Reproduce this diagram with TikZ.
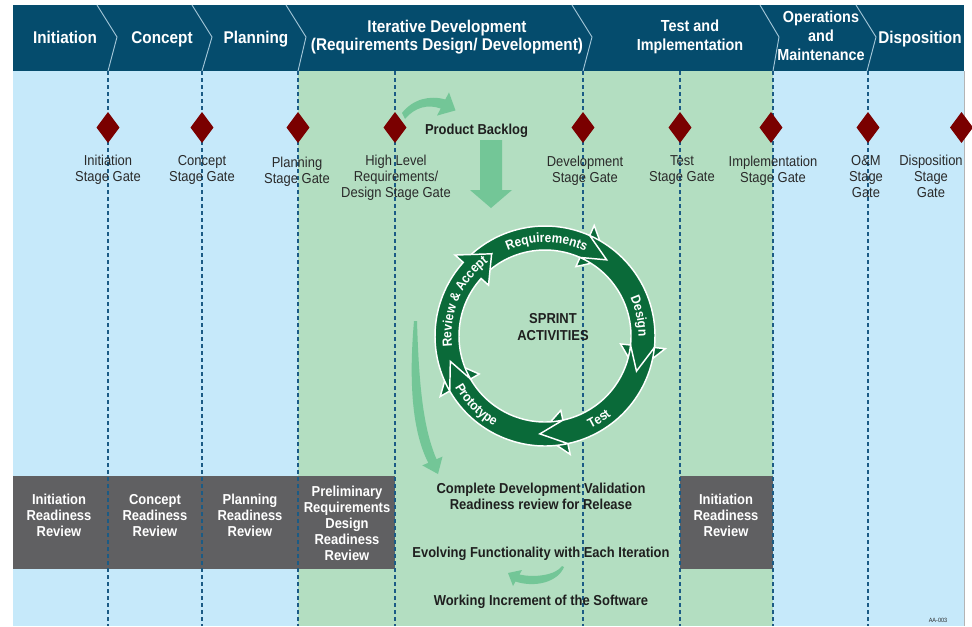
\documentclass[tikz,border=0pt]{standalone}
\usepackage{fontspec}
\setmainfont{Liberation Sans}[FakeStretch=0.9]
\usetikzlibrary{shapes.geometric,decorations.text}
\definecolor{bannerblue}{HTML}{054C6D}
\definecolor{sepline}{HTML}{A3C6D8}
\definecolor{paleblue}{HTML}{C6E9FA}
\definecolor{palegreen}{HTML}{B3DEC1}
\definecolor{dashblue}{HTML}{1B5B85}
\definecolor{gatered}{HTML}{7A0000}
\definecolor{boxgray}{HTML}{606062}
\definecolor{ringgreen}{HTML}{0A6A39}
\definecolor{flowgreen}{HTML}{73C697}
\definecolor{labelgray}{HTML}{2A2A2A}
\definecolor{framegray}{HTML}{B4B4B4}
\newcommand\ringfont{\bfseries\fontsize{10pt}{12pt}\selectfont}
\begin{document}
\begin{tikzpicture}[x=0.75pt,y=-0.75pt,
  phase/.style={anchor=north,inner sep=0pt,align=center,text=white,font=\bfseries\fontsize{12.75pt}{13.5pt}\selectfont},
  phasesmall/.style={phase,font=\bfseries\fontsize{12pt}{14.25pt}\selectfont},
  gatemark/.style={diamond,fill=gatered,draw=none,inner sep=0pt,minimum width=17.4pt,minimum height=23.4pt},
  gatelabel/.style={anchor=north,inner sep=0pt,align=center,text=labelgray,font=\fontsize{10.8pt}{12pt}\selectfont},
  reviewtext/.style={anchor=north,inner sep=0pt,align=center,text=white,font=\bfseries\fontsize{10.8pt}{12pt}\selectfont},
  darktext/.style={anchor=north,inner sep=0pt,align=center,text=black!88,font=\bfseries\fontsize{10.8pt}{12pt}\selectfont},
  stageline/.style={draw=dashblue,line width=0.8pt,dash pattern=on 3pt off 2.25pt},
  chevronsep/.style={draw=sepline,line width=0.7pt},
  ringarrow/.style={fill=ringgreen,draw=white,line width=1.1pt,line join=miter},
  flowarrow/.style={fill=flowgreen,draw=none},
  ringlabel/.style={decorate,decoration={text along path,text align=center,text color=white}},
]
\useasboundingbox (0,0) rectangle (972,626);
% banner and body
\fill[bannerblue] (13,5) rectangle (964,71);
\fill[paleblue] (13,71) rectangle (298,626);
\fill[palegreen] (298,71) rectangle (773,626);
\fill[paleblue] (773,71) rectangle (964,626);
\draw[framegray,line width=0.75pt] (964.4,71) -- (964.4,626);
\foreach \a/\b/\c in {97/117/108, 192/212/202, 286/306/298, 572/592/583, 760/779/773, 856/876/867}
  \draw[chevronsep] (\a,5) -- (\b,37) -- (\c,71);
% phase titles
\node[phase] (ph1) at (65,31) {Initiation};
\node[phase] (ph2) at (162,31) {Concept};
\node[phase] (ph3) at (256,31) {Planning};
\node[phase] (ph4) at (447,19.5) {Iterative Development\\(Requirements Design/ Development)};
\node[phasesmall] (ph5) at (690,20) {Test and\\Implementation};
\node[phasesmall] (ph6) at (821,10.5) {Operations\\and\\Maintenance};
\node[phase] (ph7) at (920,31) {Disposition};
% review boxes
\fill[boxgray] (13,476) rectangle (395,569);
\fill[boxgray] (680,476) rectangle (773,569);
% stage lines
\foreach \x in {108,202,298,395,583,680,773,868}
  \draw[stageline] (\x,71) -- (\x,626);
% gates
\foreach \x [count=\i] in {108,202,298,395,583,680,771,868,961.5}
  \node[gatemark] (gate\i) at (\x,127.5) {};
\node[gatelabel] (gl1) at (108,155) {Initiation\\Stage Gate};
\node[gatelabel] (gl2) at (202,155.5) {Concept\\Stage Gate};
\node[gatelabel] (gl3) at (297,156.5) {Planning\\Stage Gate};
\node[gatelabel] (gl4) at (396,154.5) {High Level\\Requirements/\\Design Stage Gate};
\node[gatelabel] (gl5) at (585,155.5) {Development\\Stage Gate};
\node[gatelabel] (gl6) at (682,155.5) {Test\\Stage Gate};
\node[gatelabel] (gl7) at (773,155.5) {Implementation\\Stage Gate};
\node[gatelabel] (gl8) at (866,155.5) {O\&M\\Stage\\Gate};
\node[gatelabel] (gl9) at (931,155) {Disposition\\Stage\\Gate};
% review texts
\node[reviewtext] (rv1) at (59,494) {Initiation\\Readiness\\Review};
\node[reviewtext] (rv2) at (155,494) {Concept\\Readiness\\Review};
\node[reviewtext] (rv3) at (250,494) {Planning\\Readiness\\Review};
\node[reviewtext] (rv4) at (347,486) {Preliminary\\Requirements\\Design\\Readiness\\Review};
\node[reviewtext] (rv5) at (726,494) {Initiation\\Readiness\\Review};
% sprint ring
\begin{scope}[shift={(545,336)},x=0.75pt,y=0.75pt]
  \foreach \tp/\bp/\b/\t in {123/138/66/51, 51/66/-6/-21, -21/-6/-78/-93, -93/-78/-150/-165, 195/210/138/123}
    \filldraw[ringarrow] (\bp:110) arc[start angle=\bp, end angle=\b, radius=110]
      -- (\b:121) -- (\t:98) -- (\b:76) -- (\b:86)
      arc[start angle=\b, end angle=\bp, radius=86] -- (\tp:98) -- cycle;
  \path[ringlabel,decoration={text={|\ringfont|Requirements}}] (134:93.5) arc[start angle=134, end angle=44, radius=93.5];
  \path[ringlabel,decoration={text={|\ringfont|Design}}] (47:93.5) arc[start angle=47, end angle=-23, radius=93.5];
  \path[ringlabel,decoration={text={|\ringfont|Test}}] (-88:103.5) arc[start angle=-88, end angle=-26, radius=103.5];
  \path[ringlabel,decoration={text={|\ringfont|Prototype}}] (-181:103.5) arc[start angle=-181, end angle=-89, radius=103.5];
  \path[ringlabel,decoration={text={|\ringfont|Review {\&} Accept}}] (210:93.5) arc[start angle=210, end angle=104, radius=93.5];
\end{scope}
% flow arrows
\fill[flowarrow] (402,113) .. controls (413,99) and (430,95) .. (445.3,99.5) -- (449,92.4) -- (455.5,110.4) -- (437,115.6) -- (440.7,108.5) .. controls (428,104) and (415,107) .. (405,119) -- cycle;
\fill[flowarrow] (480,140) -- (502,140) -- (502,190) -- (512,190) -- (491,208) -- (470,190) -- (480,190) -- cycle;
\fill[flowarrow] (414,321) .. controls (408,390) and (414,435) .. (428.3,462.8) -- (422.3,465.4) -- (438,474) -- (442.5,456.6) -- (436.5,459.2) .. controls (424,430) and (419,390) .. (417,321) -- cycle;
\fill[flowarrow] (562,566) .. controls (556,575) and (535,578) .. (519.5,574.5) -- (522,570) -- (508,573) -- (513,586) -- (515.5,581.5) .. controls (535,588) and (558,582) .. (564,567) -- cycle;
% texts
\node[darktext] (pb) at (476.5,124) {Product Backlog};
\node[darktext,font=\bfseries\fontsize{10.8pt}{12.75pt}\selectfont] (spr) at (553,313) {SPRINT\\ACTIVITIES};
\node[darktext] (cdv) at (541,483) {Complete Development Validation\\Readiness review for Release};
\node[darktext] (evo) at (541,547) {Evolving Functionality with Each Iteration};
\node[darktext] (wis) at (541,595) {Working Increment of the Software};
\node[anchor=north,inner sep=0pt,text=labelgray,font=\fontsize{4.6pt}{5pt}\selectfont] (tag) at (938,617.5) {AA-003};
\end{tikzpicture}
\end{document}
